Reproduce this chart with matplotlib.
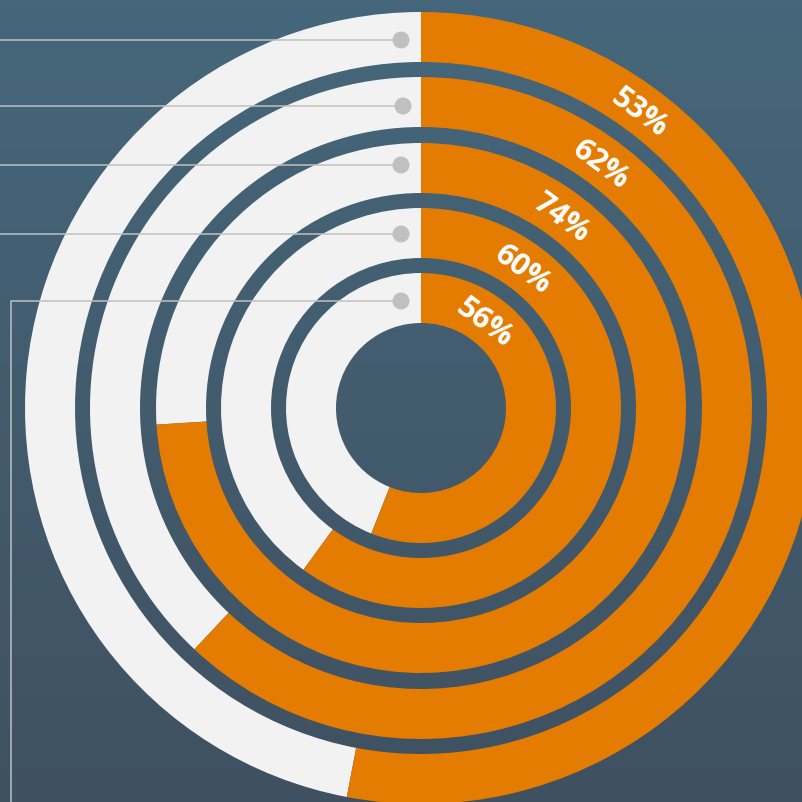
"""
Radial progress rings: five concentric bars on a slate background
"""

import numpy as np
import matplotlib
matplotlib.use("Agg")
import matplotlib.pyplot as plt
from matplotlib.patches import Wedge, Circle
from matplotlib.colors import LinearSegmentedColormap

# data (outer ring first)
labels = ["53%", "62%", "74%", "60%", "56%"]
values = [53, 62, 74, 60, 56]

# styling
ORANGE = "#e37c00"
TRACK = "#f2f2f2"
LEADER = "#c0c0c0"
BG_TOP = "#46677b"
BG_BOTTOM = "#3f5161"

W = H = 802
cx, cy = 421, H - 408          # ring centre, y measured from the bottom
outer_radii = [396, 331, 265, 200, 135]
ring_width = 50
label_angle = 36.5             # degrees clockwise from 12 o'clock
dot_y = [40, 106, 165, 234, 301]
dot_x = [401, 403, 401, 401, 401]


def main():
    fig = plt.figure(figsize=(W / 100, H / 100), dpi=100)
    ax = fig.add_axes([0, 0, 1, 1])
    ax.set_xlim(0, W)
    ax.set_ylim(0, H)
    ax.set_aspect("equal")
    ax.axis("off")

    # vertical gradient background
    cmap = LinearSegmentedColormap.from_list("bg", [BG_BOTTOM, BG_TOP])
    grad = np.linspace(0, 1, 256).reshape(-1, 1)
    ax.imshow(grad, cmap=cmap, extent=[0, W, 0, H], origin="lower",
              aspect="auto", zorder=0)

    for r, v, lab in zip(outer_radii, values, labels):
        end = 90 - 360 * v / 100
        # grey track for the remainder, orange for the value
        ax.add_patch(Wedge((cx, cy), r, 90, end, width=ring_width,
                           facecolor=TRACK, edgecolor="none", zorder=2))
        ax.add_patch(Wedge((cx, cy), r, end, 90, width=ring_width,
                           facecolor=ORANGE, edgecolor="none", zorder=3))

        # value label, set along the ring
        rm = r - ring_width / 2 - 4
        a = np.radians(90 - label_angle)
        ax.text(cx + rm * np.cos(a), cy + rm * np.sin(a), lab,
                rotation=-label_angle, rotation_mode="anchor",
                ha="center", va="center", color="white",
                fontsize=22, fontweight="bold", family="Open Sans",
                zorder=5)

    # leader lines with dots
    for i, (x, y) in enumerate(zip(dot_x, dot_y)):
        yy = H - y
        if i == len(dot_y) - 1:
            ax.plot([x, 11, 11], [yy, yy, 0], color=LEADER, lw=1.1, zorder=4)
        else:
            ax.plot([0, x], [yy, yy], color=LEADER, lw=1.1, zorder=4)
        ax.add_patch(Circle((x, yy), 8.5, facecolor=LEADER,
                            edgecolor="none", zorder=4))

    fig.savefig("out.png", dpi=100)


if __name__ == "__main__":
    main()
